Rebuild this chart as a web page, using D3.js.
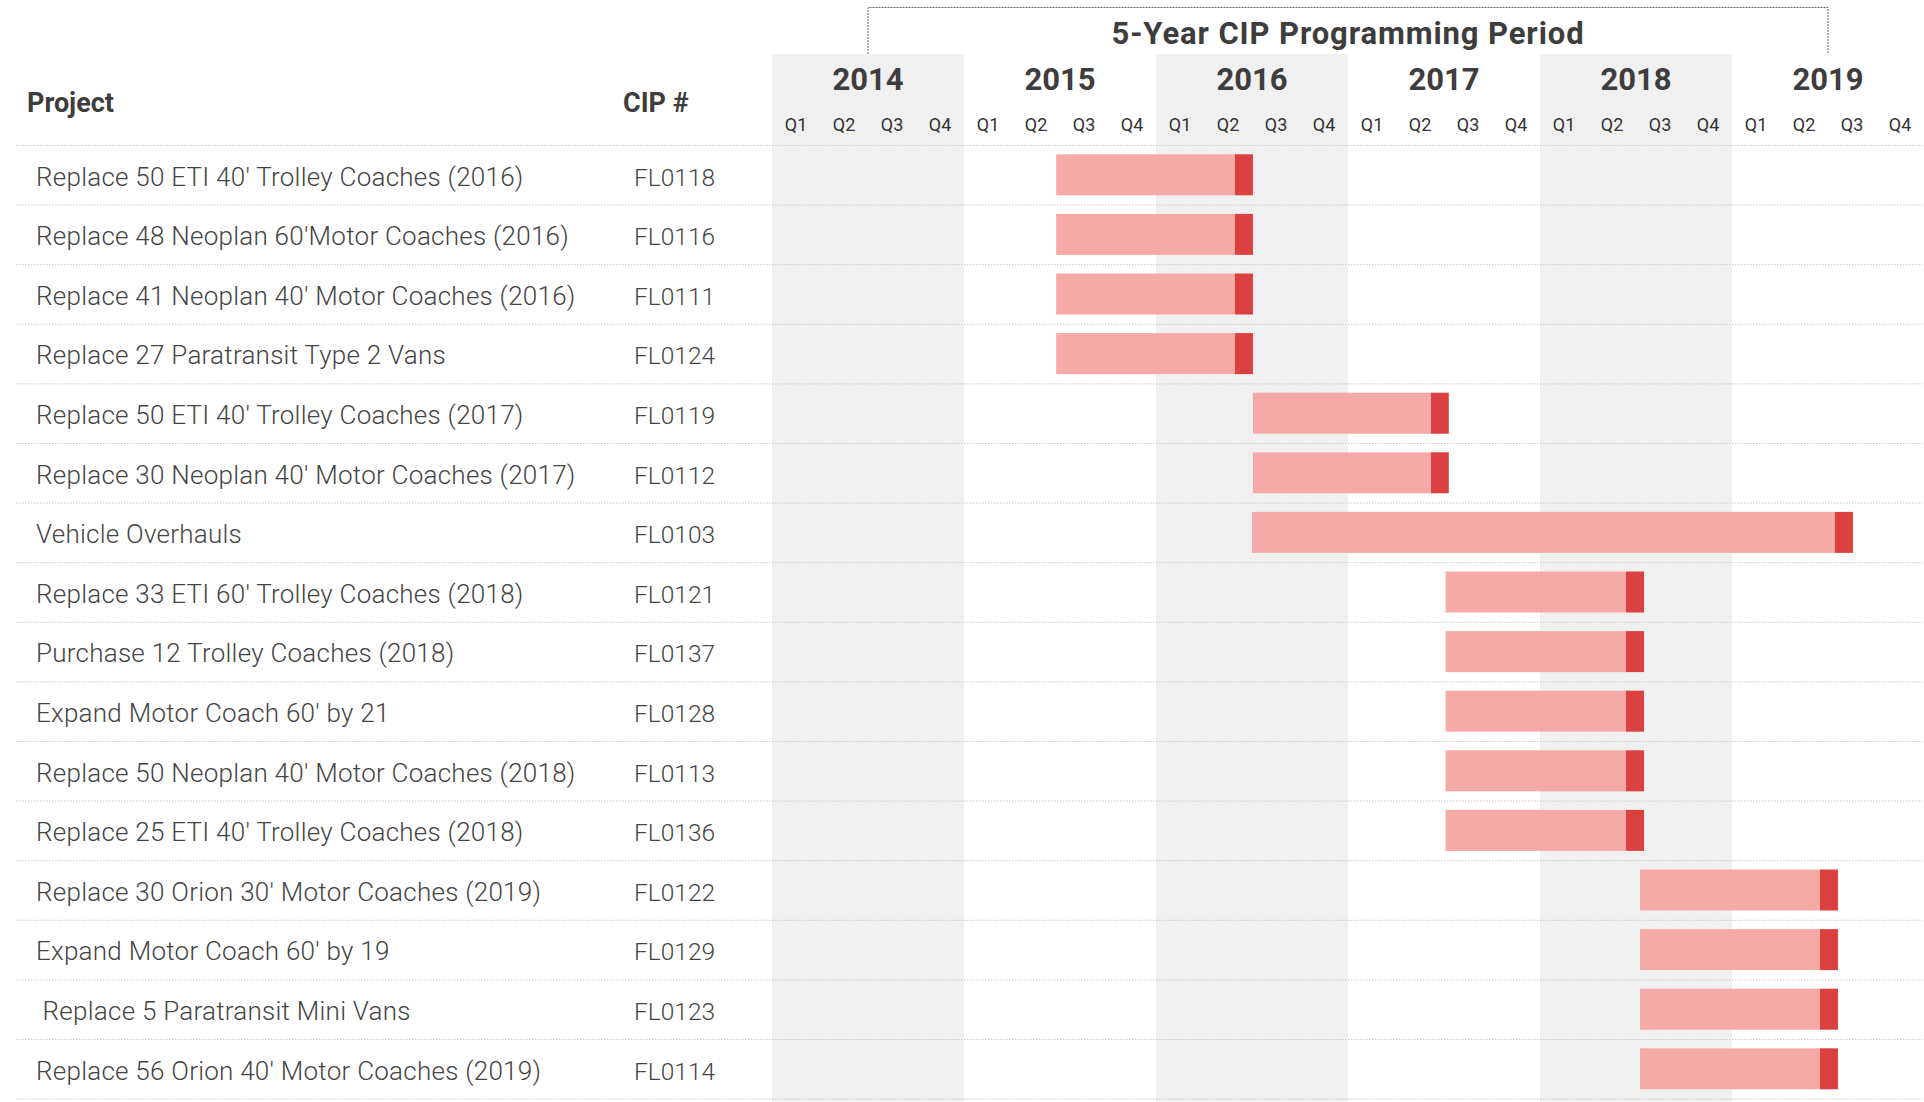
<!DOCTYPE html>
<html>
<head>
<meta charset="utf-8">
<script src="https://cdn.jsdelivr.net/npm/d3@7"></script>
<style>
  html, body { margin: 0; padding: 0; background: #fff; }
  svg { display: block; }
  text { font-family: Roboto, "Noto Sans", sans-serif; }
</style>
</head>
<body>
<svg id="chart" width="1924" height="1102"></svg>
<script>
// ---- Data ----
const projects = [
  "Replace 50 ETI 40' Trolley Coaches (2016)",
  "Replace 48 Neoplan 60'Motor Coaches (2016)",
  "Replace 41 Neoplan 40' Motor Coaches (2016)",
  "Replace 27 Paratransit Type 2 Vans",
  "Replace 50 ETI 40' Trolley Coaches (2017)",
  "Replace 30 Neoplan 40' Motor Coaches (2017)",
  "Vehicle Overhauls",
  "Replace 33 ETI 60' Trolley Coaches (2018)",
  "Purchase 12 Trolley Coaches (2018)",
  "Expand Motor Coach 60' by 21",
  "Replace 50 Neoplan 40' Motor Coaches (2018)",
  "Replace 25 ETI 40' Trolley Coaches (2018)",
  "Replace 30 Orion 30' Motor Coaches (2019)",
  "Expand Motor Coach 60' by 19",
  " Replace 5 Paratransit Mini Vans",
  "Replace 56 Orion 40' Motor Coaches (2019)"
];
const cipNumbers = [
  "FL0118","FL0116","FL0111","FL0124","FL0119","FL0112","FL0103","FL0121",
  "FL0137","FL0128","FL0113","FL0136","FL0122","FL0129","FL0123","FL0114"
];
// phase boundaries in decimal years
const startDates = [
  2015.48, 2015.48, 2015.48, 2015.48,
  2016.505, 2016.505, 2016.50,
  2017.508, 2017.508, 2017.508, 2017.508, 2017.508,
  2018.521, 2018.521, 2018.521, 2018.521
];
const procurementEnd = [
  2016.411, 2016.411, 2016.411, 2016.411,
  2017.432, 2017.432, 2019.536,
  2018.448, 2018.448, 2018.448, 2018.448, 2018.448,
  2019.458, 2019.458, 2019.458, 2019.458
];
const endDates = [
  2016.505, 2016.505, 2016.505, 2016.505,
  2017.525, 2017.525, 2019.63,
  2018.542, 2018.542, 2018.542, 2018.542, 2018.542,
  2019.552, 2019.552, 2019.552, 2019.552
];
const years = [2014, 2015, 2016, 2017, 2018, 2019];
const quarterLabels = ["Q1", "Q2", "Q3", "Q4"];
const shadedYears = [2014, 2016, 2018];
const periodTitle = "5-Year CIP Programming Period";
const periodRange = [2014.5, 2019.5];
const headerProject = "Project";
const headerCip = "CIP #";

// ---- Layout ----
const W = 1924, H = 1102;
const svg = d3.select("#chart");
const x = d3.scaleLinear().domain([2014, 2020]).range([772, 1924]);
const rowTop = 145, rowH = 59.6;
const y = d3.scaleBand().domain(d3.range(projects.length))
  .range([rowTop, rowTop + rowH * projects.length]).paddingInner(0).paddingOuter(0);
const bandTop = 54;

// shaded year bands
svg.append("g").selectAll("rect").data(shadedYears).join("rect")
  .attr("x", d => x(d)).attr("y", bandTop)
  .attr("width", d => x(d + 1) - x(d)).attr("height", H - bandTop)
  .attr("fill", "#f0f0f0");

// bracket for programming period
svg.append("path")
  .attr("d", `M${x(periodRange[0])},${bandTop} V7.5 H${x(periodRange[1])} V${bandTop}`)
  .attr("fill", "none").attr("stroke", "#666").attr("stroke-width", 1)
  .attr("stroke-dasharray", "2,1");

svg.append("text")
  .attr("x", (x(periodRange[0]) + x(periodRange[1])) / 2).attr("y", 44)
  .attr("text-anchor", "middle").attr("font-size", 31).attr("font-weight", 700)
  .attr("letter-spacing", 0.9)
  .attr("fill", "#3d3d3d").text(periodTitle);

// year labels
svg.append("g").selectAll("text").data(years).join("text")
  .attr("x", d => x(d + 0.5)).attr("y", 90)
  .attr("text-anchor", "middle").attr("font-size", 31).attr("font-weight", 700)
  .attr("fill", "#3d3d3d").text(d => d);

// quarter labels
const quarters = years.flatMap(yr => quarterLabels.map((q, i) => ({yr, q, i})));
svg.append("g").selectAll("text").data(quarters).join("text")
  .attr("x", d => x(d.yr + (d.i + 0.5) / 4)).attr("y", 131)
  .attr("text-anchor", "middle").attr("font-size", 18).attr("font-weight", 400)
  .attr("fill", "#333").text(d => d.q);

// headers
svg.append("text").attr("x", 27).attr("y", 111.5)
  .attr("font-size", 27).attr("font-weight", 700).attr("fill", "#3d3d3d").text(headerProject);
svg.append("text").attr("x", 623).attr("y", 111.5)
  .attr("font-size", 27).attr("font-weight", 700).attr("fill", "#3d3d3d").text(headerCip);

// row separator lines
const lines = d3.range(projects.length + 1);
svg.append("g").selectAll("line").data(lines).join("line")
  .attr("x1", 16).attr("x2", W)
  .attr("y1", d => (d < projects.length ? y(d) : y(d - 1) + y.bandwidth()) + 0.5)
  .attr("y2", d => (d < projects.length ? y(d) : y(d - 1) + y.bandwidth()) + 0.5)
  .attr("stroke", "#c8c8c8").attr("stroke-width", 1).attr("stroke-dasharray", "1.5,1.5");

// row labels
const rows = svg.append("g").selectAll("g").data(projects).join("g");
rows.append("text")
  .attr("x", 36).attr("y", (d, i) => y(i) + 40.5)
  .attr("font-size", 26).attr("font-weight", 300).attr("fill", "#444")
  .attr("letter-spacing", 0.25)
  .style("white-space", "pre")
  .text(d => d);
rows.append("text")
  .attr("x", 634).attr("y", (d, i) => y(i) + 40.5)
  .attr("font-size", 24.5).attr("font-weight", 300).attr("fill", "#444")
  .text((d, i) => cipNumbers[i]);

// bars
const barH = 41;
const bars = svg.append("g").selectAll("g").data(projects).join("g");
bars.append("rect")
  .attr("x", (d, i) => x(startDates[i]))
  .attr("y", (d, i) => y(i) + (y.bandwidth() - barH) / 2)
  .attr("width", (d, i) => x(procurementEnd[i]) - x(startDates[i]))
  .attr("height", barH).attr("fill", "#f6aaa7");
bars.append("rect")
  .attr("x", (d, i) => x(procurementEnd[i]))
  .attr("y", (d, i) => y(i) + (y.bandwidth() - barH) / 2)
  .attr("width", (d, i) => x(endDates[i]) - x(procurementEnd[i]))
  .attr("height", barH).attr("fill", "#dc4141");
</script>
</body>
</html>
